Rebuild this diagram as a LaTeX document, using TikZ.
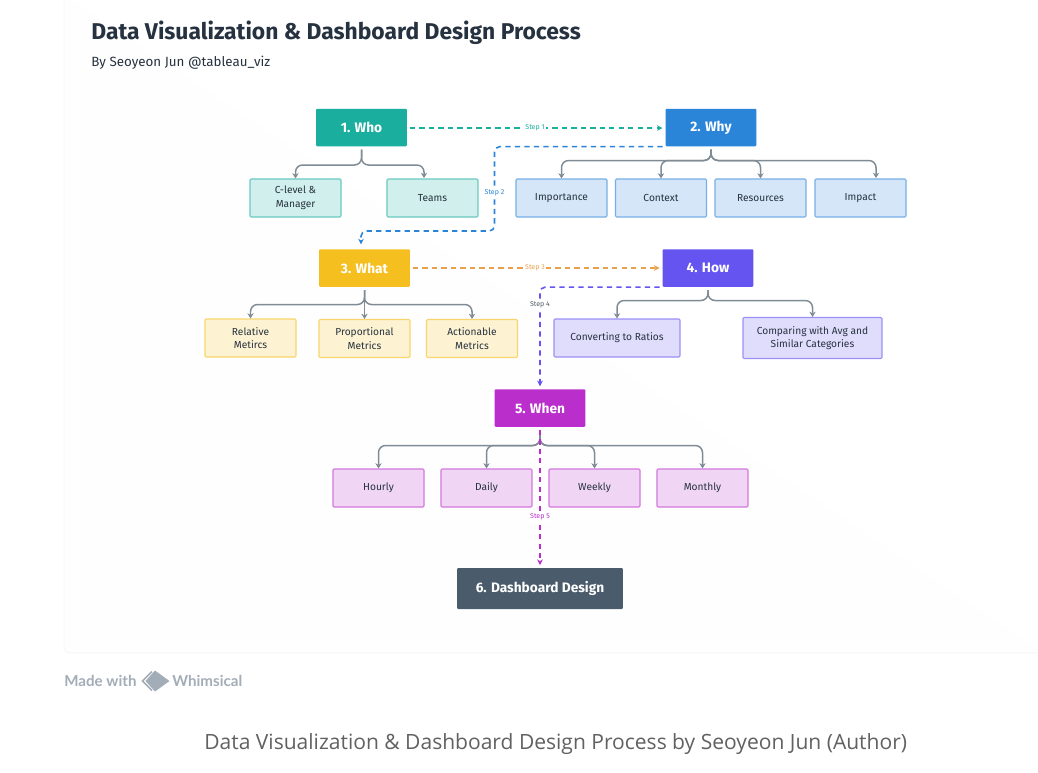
\documentclass[tikz,border=0pt]{standalone}
\usetikzlibrary{arrows.meta}
\usepackage{fontspec}
\setmainfont{Fira Sans}
\newfontfamily\captionfont{Open Sans}
\newfontfamily\brandfont{Lato}
\definecolor{inkdark}{HTML}{26323F}
\definecolor{treegray}{HTML}{7F8C96}
\definecolor{brandgray}{HTML}{A3ADB8}
\definecolor{whocol}{HTML}{1AAE9F}
\definecolor{whycol}{HTML}{2A84D8}
\definecolor{whatcol}{HTML}{F5BF1F}
\definecolor{howcol}{HTML}{6554F0}
\definecolor{whencol}{HTML}{BA2FCB}
\definecolor{designcol}{HTML}{4A5B6B}
\definecolor{linkorange}{HTML}{E8A04C}
\tikzset{
  mainbox/.style={rectangle,rounded corners=0.6pt,fill=#1,text=white,font=\fontsize{7.8}{9}\selectfont\bfseries,minimum width=1.82cm,minimum height=0.75cm,inner sep=0pt},
  subbox/.style={rectangle,rounded corners=0.6pt,draw=#1!65,fill=#1!20,line width=0.6pt,text=inkdark,font=\fontsize{5.8}{7.8}\selectfont,align=center,minimum width=1.82cm,minimum height=0.76cm,inner sep=0pt},
  treeline/.style={draw=treegray,line width=0.85pt,rounded corners=4pt,-{Stealth[length=3pt,width=3.6pt]}},
  steplink/.style={draw=#1,line width=0.9pt,dash pattern=on 3pt off 2.4pt,rounded corners=3pt,-{Stealth[length=3.2pt,width=3.2pt]},shorten <=1.5pt,shorten >=1.5pt},
  steplabel/.style={fill=white,text=#1,font=\fontsize{4}{4.5}\selectfont,inner sep=0.8pt}
}
\begin{document}
\begin{tikzpicture}[x=0.02cm,y=-0.02cm]
\useasboundingbox (0,0) rectangle (1038,772);
% panel behind the chart
\fill[white] (0,0) rectangle (1038,772);
\draw[draw=black!4,fill=black!0.5,rounded corners=3pt] (64,-5) -- (64,653) -- (1043,653);
% headings
\node[anchor=west,text=inkdark,font=\fontsize{13}{15}\selectfont\bfseries,inner sep=0pt] (title) at (91,33) {Data Visualization \& Dashboard Design Process};
\node[anchor=west,text=inkdark,font=\fontsize{7.6}{9}\selectfont,inner sep=0pt] (byline) at (91,63) {By Seoyeon Jun @tableau\_viz};
% main steps
\node[mainbox=whocol] (who) at (361.5,127.5) {1. Who};
\node[mainbox=whycol] (why) at (711,127.5) {2. Why};
\node[mainbox=whatcol] (what) at (364.5,268) {3. What};
\node[mainbox=howcol] (how) at (708,268) {4. How};
\node[mainbox=whencol] (when) at (540,408) {5. When};
\node[mainbox=designcol,minimum width=3.32cm,minimum height=0.82cm] (design) at (540,588.5) {6. Dashboard Design};
% who children
\node[subbox=whocol] (clevel) at (295.5,198) {C-level \&\\Manager};
\node[subbox=whocol] (teams) at (432.5,198) {Teams};
% why children
\node[subbox=whycol] (importance) at (561.5,198) {Importance};
\node[subbox=whycol] (context) at (661,198) {Context};
\node[subbox=whycol] (resources) at (760.5,198) {Resources};
\node[subbox=whycol] (impact) at (860.5,198) {Impact};
% what children
\node[subbox=whatcol] (relative) at (250.5,338) {Relative\\Metircs};
\node[subbox=whatcol] (proportional) at (364.5,338.5) {Proportional\\Metrics};
\node[subbox=whatcol] (actionable) at (472,338.5) {Actionable\\Metrics};
% how children
\node[subbox=howcol,minimum width=2.52cm] (ratios) at (617,338) {Converting to Ratios};
\node[subbox=howcol,minimum width=2.78cm,minimum height=0.82cm] (comparing) at (812.5,338) {Comparing with Avg and\\Similar Categories};
% when children
\node[subbox=whencol] (hourly) at (378.5,488) {Hourly};
\node[subbox=whencol] (daily) at (486.5,488) {Daily};
\node[subbox=whencol] (weekly) at (594.5,488) {Weekly};
\node[subbox=whencol] (monthly) at (702.5,488) {Monthly};
% off-centre arrow ends
\coordinate (teamsin) at (424,178);
\coordinate (impactin) at (876,178);
\coordinate (whatin) at (361,247);
% tree lines, each from the parent down to its children
\foreach \kid in {clevel,teamsin}
  \draw[treeline] (who.south) ++(0,3) -- (361.5,165) -| (\kid);
\foreach \kid in {importance,context,resources,impactin}
  \draw[treeline] (why.south) ++(0,3) -- (711,160.5) -| (\kid);
\foreach \kid in {relative,proportional,actionable}
  \draw[treeline] (what.south) ++(0,3) -- (364.5,304.5) -| (\kid.north);
\foreach \kid in {ratios,comparing}
  \draw[treeline] (how.south) ++(0,3) -- (708,300.5) -| (\kid.north);
\foreach \kid in {hourly,daily,weekly,monthly}
  \draw[treeline] (when.south) ++(0,3) -- (540,445.5) -| (\kid.north);
% dashed links between steps
\draw[steplink=whocol] ([yshift=-0.3pt]who.east) -- ([yshift=-0.3pt]why.west);
\draw[steplink=whycol] (why.south west) -| (494.5,231) -| (whatin);
\draw[steplink=linkorange] (what.east) -- (how.west);
\draw[steplink=howcol] (how.south west) -| (when.north);
\draw[steplink=whencol] (when.south) -- (design.north);
% step labels
\node[steplabel=whocol] (lab1) at (535,128) {Step 1};
\node[steplabel=whycol] (lab2) at (494.5,193) {Step 2};
\node[steplabel=linkorange] (lab3) at (535,268) {Step 3};
\node[steplabel=inkdark!80] (lab4) at (540,305) {Step 4};
\node[steplabel=whencol] (lab5) at (540,517) {Step 5};
% whimsical mark
\node[anchor=west,text=brandgray,font=\brandfont\fontsize{8.6}{10}\selectfont\bfseries,inner sep=0pt] (made) at (64,681) {Made with};
\fill[brandgray] (155,670.5) -- (169.5,681) -- (155,691.5) -- (145.5,681) -- cycle;
\draw[brandgray,line width=0.9pt] (152,671.5) -- (142.5,681) -- (152,690.5);
\node[anchor=west,text=brandgray,font=\brandfont\fontsize{8.6}{10}\selectfont\bfseries,inner sep=0pt] (brand) at (172,681) {Whimsical};
% caption under the figure
\node[anchor=west,text=black!62,font=\captionfont\fontsize{11.97}{14}\selectfont,inner sep=0pt] (caption) at (204,744) {Data Visualization \& Dashboard Design Process by Seoyeon Jun (Author)};
\end{tikzpicture}
\end{document}
